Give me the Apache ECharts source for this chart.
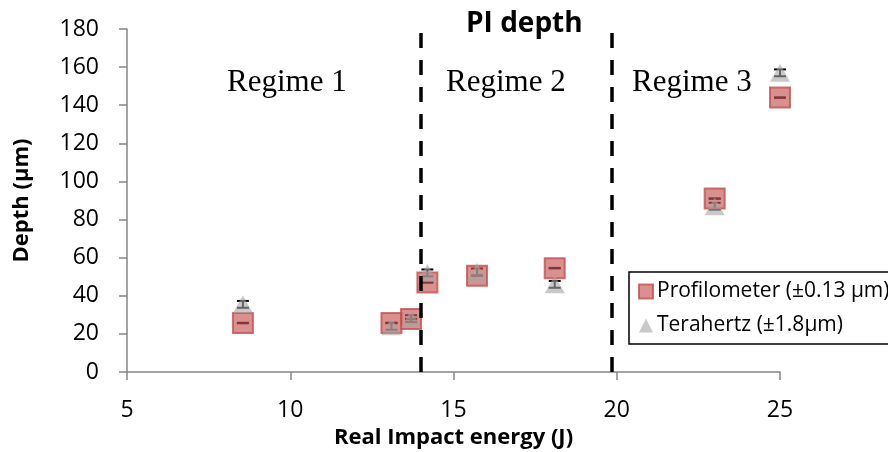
<!DOCTYPE html>
<html>
<head>
<meta charset="utf-8">
<script src="https://cdn.jsdelivr.net/npm/echarts@6/dist/echarts.min.js"></script>
<style>
  html, body { margin: 0; padding: 0; background: #fff; }
  #chart { width: 888px; height: 452px; }
</style>
</head>
<body>
<div id="chart"></div>
<script>
// data
var energy = [8.55, 13.1, 13.7, 14.2, 15.72, 18.1, 23.0, 25.0];
var profDepth = [25.7, 25.7, 27.8, 47, 50.5, 54.5, 91, 144];
var thzDepth = [35.5, 24, 28, 52, 52.5, 46, 87, 157];
var profErr = 0.13;
var thzErr = 1.8;
var regimeBounds = [14.0, 19.85];
var regimeNames = ['Regime 1', 'Regime 2', 'Regime 3'];

var font = '"Open Sans", "Noto Sans", sans-serif';
var serif = '31px "Liberation Serif", serif';

function pairs(ys) {
  return energy.map(function (x, i) { return [x, ys[i]]; });
}
function errData(ys, e) {
  return energy.map(function (x, i) { return [x, ys[i] - e, ys[i] + e]; });
}

// error bars with caps
function renderErr(color) {
  return function (params, api) {
    var x = api.value(0);
    var top = api.coord([x, api.value(2)]);
    var bot = api.coord([x, api.value(1)]);
    var w = 6;
    var st = { stroke: color, lineWidth: 2 };
    return {
      type: 'group',
      children: [
        { type: 'line', shape: { x1: top[0], y1: top[1], x2: bot[0], y2: bot[1] }, style: st },
        { type: 'line', shape: { x1: top[0] - w, y1: top[1], x2: top[0] + w, y2: top[1] }, style: st },
        { type: 'line', shape: { x1: bot[0] - w, y1: bot[1], x2: bot[0] + w, y2: bot[1] }, style: st }
      ]
    };
  };
}

var chart = echarts.init(document.getElementById('chart'));

var option = {
  animation: false,
  backgroundColor: '#fff',
  title: {
    text: 'PI depth',
    left: 461,
    top: 5,
    textStyle: { fontFamily: font, fontWeight: 'bold', fontSize: 28, color: '#000' }
  },
  grid: { left: 127, right: 108, top: 29, bottom: 80, outerBoundsMode: 'none', containLabel: false },
  legend: {
    orient: 'vertical',
    left: 629,
    top: 272,
    padding: [9, 8, 8, 9],
    itemGap: 13,
    itemWidth: 14,
    itemHeight: 14,
    borderColor: '#000',
    borderWidth: 1.5,
    textStyle: { fontFamily: font, fontSize: 21, color: '#000', padding: [0, 0, 0, -1] },
    data: [
      { name: 'Profilometer (±0.13 µm)' },
      { name: 'Terahertz (±1.8µm)' }
    ]
  },
  xAxis: {
    type: 'value',
    min: 5,
    max: 25,
    interval: 5,
    name: 'Real Impact energy (J)',
    nameLocation: 'middle',
    nameGap: 53,
    nameTextStyle: { fontFamily: font, fontWeight: 'bold', fontSize: 22, color: '#000' },
    axisLine: { lineStyle: { color: '#868686', width: 1.5 } },
    axisTick: { show: true, length: 8, lineStyle: { color: '#868686', width: 1.5 } },
    axisLabel: { fontFamily: font, fontSize: 23, color: '#000', margin: 27 },
    splitLine: { show: false }
  },
  yAxis: {
    type: 'value',
    min: 0,
    max: 180,
    interval: 20,
    name: 'Depth (µm)',
    nameLocation: 'middle',
    nameGap: 94,
    nameTextStyle: { fontFamily: font, fontWeight: 'bold', fontSize: 22, color: '#000' },
    axisLine: { show: true, lineStyle: { color: '#868686', width: 1.5 } },
    axisTick: { show: true, length: 8, lineStyle: { color: '#868686', width: 1.5 } },
    axisLabel: { fontFamily: font, fontSize: 23, color: '#000', margin: 28 },
    splitLine: { show: false }
  },
  graphic: [
    { type: 'text', left: 227, top: 67, style: { text: regimeNames[0], font: serif, fill: '#000' } },
    { type: 'text', left: 446, top: 67, style: { text: regimeNames[1], font: serif, fill: '#000' } },
    { type: 'text', left: 632, top: 67, style: { text: regimeNames[2], font: serif, fill: '#000' } }
  ],
  series: [
    {
      type: 'custom',
      name: 'profErr',
      renderItem: renderErr('#000'),
      data: errData(profDepth, profErr),
      z: 1,
      silent: true
    },
    {
      type: 'custom',
      name: 'thzErr',
      renderItem: renderErr('#000'),
      data: errData(thzDepth, thzErr),
      z: 1,
      silent: true
    },
    {
      type: 'scatter',
      name: 'Profilometer (±0.13 µm)',
      symbol: 'rect',
      symbolSize: 20,
      itemStyle: { color: 'rgba(200, 85, 85, 0.82)', borderColor: '#c0504d', borderWidth: 2 },
      data: pairs(profDepth),
      z: 3,
      markLine: {
        silent: true,
        symbol: 'none',
        label: { show: false },
        lineStyle: { color: '#000', width: 3.5, type: [15, 12] },
        data: regimeBounds.map(function (v) { return { xAxis: v }; })
      }
    },
    {
      type: 'scatter',
      name: 'Terahertz (±1.8µm)',
      symbol: 'triangle',
      symbolSize: [20, 18],
      itemStyle: { color: 'rgba(165, 165, 165, 0.75)' },
      data: pairs(thzDepth),
      z: 4
    }
  ]
};

chart.setOption(option);
</script>
</body>
</html>
